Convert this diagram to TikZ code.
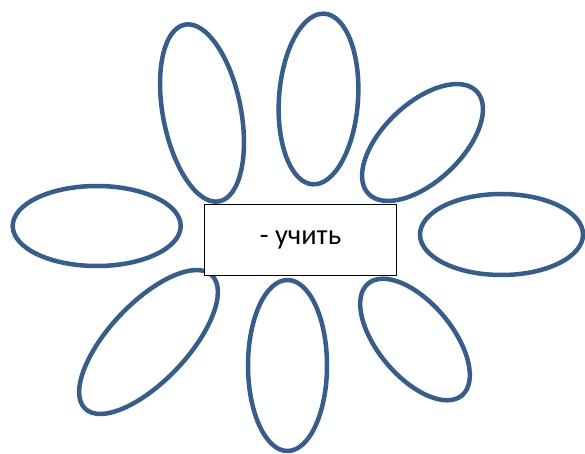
\documentclass[tikz,border=0pt]{standalone}
\usepackage{fontspec}
\setmainfont{Carlito}
\usetikzlibrary{shapes.geometric}
\definecolor{petalblue}{HTML}{385D8A}
\begin{document}
\begin{tikzpicture}[x=1pt,y=-1pt,
  petal/.style={draw=petalblue, line width=4.5pt, ellipse, inner sep=0pt, outer sep=0pt},
  centerbox/.style={draw=black, fill=white, line width=1.4pt, inner sep=0pt,
    minimum width=192pt, minimum height=71pt, font=\fontsize{28.5}{34}\selectfont}]
\useasboundingbox (0,0) rectangle (585,454);
\node[petal, rotate=101,  minimum width=180pt, minimum height=78pt] (p1) at (202,113) {};
\node[petal, rotate=86,   minimum width=171pt, minimum height=79pt] (p2) at (318.5,99) {};
\node[petal, rotate=43.3, minimum width=149pt, minimum height=78pt] (p3) at (422.5,142.5) {};
\node[petal, minimum width=168pt, minimum height=80pt] (p4) at (96.7,226) {};
\node[petal, minimum width=163pt, minimum height=81pt] (p5) at (501.5,234.5) {};
\node[petal, rotate=46.5, minimum width=184pt, minimum height=78pt] (p6) at (148.5,342) {};
\node[petal, rotate=90,   minimum width=171pt, minimum height=79pt] (p7) at (287.5,365.5) {};
\node[petal, rotate=130,  minimum width=146pt, minimum height=74pt] (p8) at (415,339.5) {};
\node[centerbox] (c) at (300.5,240) {- учить};
\end{tikzpicture}
\end{document}
